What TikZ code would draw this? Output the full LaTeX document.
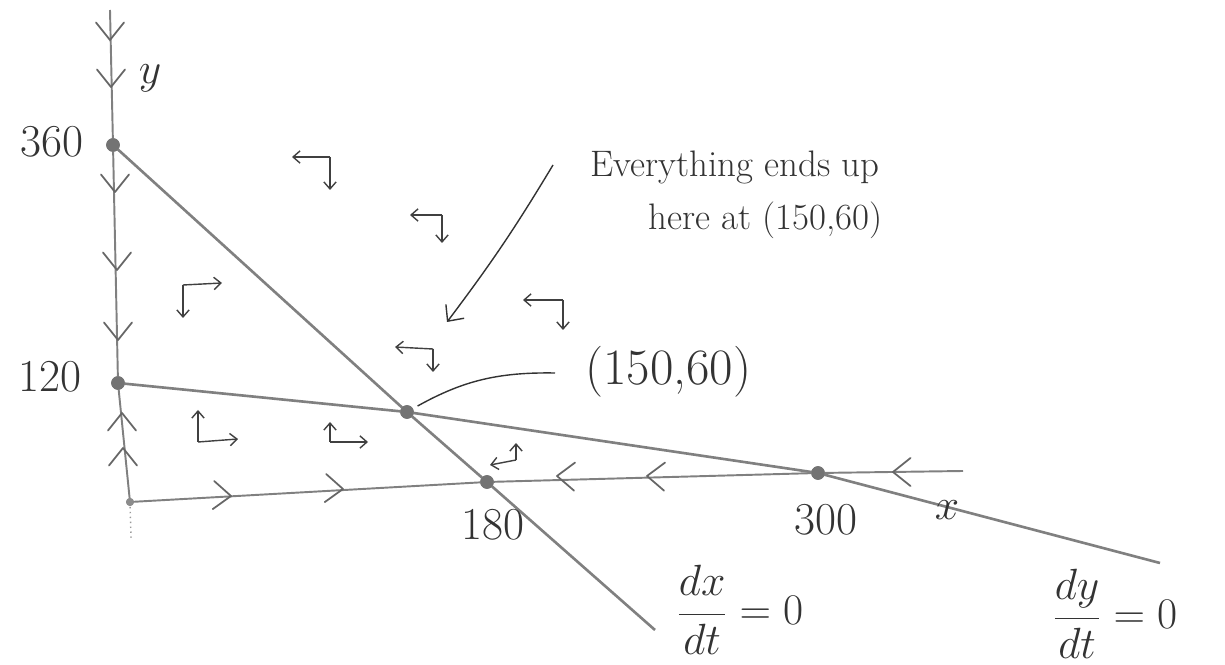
\documentclass[tikz,border=0pt]{standalone}
\usetikzlibrary{arrows.meta}
\begin{document}
\begin{tikzpicture}[x=0.02cm,y=-0.02cm,
  axisline/.style={draw=black!50, line width=1.1pt},
  nullcline/.style={draw=black!50, line width=1.5pt},
  dotnode/.style={circle, fill=black!55, draw=black!55, inner sep=0pt, minimum size=2.6mm},
  smalldot/.style={circle, fill=black!45, inner sep=0pt, minimum size=1.6mm},
  lbl/.style={text=black!80, inner sep=0pt, font=\fontsize{22}{26}\selectfont},
  numlbl/.style={text=black!80, inner sep=0pt, font=\fontsize{26}{30}\selectfont},
  fraclbl/.style={text=black!80, inner sep=0pt, font=\fontsize{27}{31}\selectfont},
  dirarrow/.style={draw=black!75, line width=0.8pt, -{Straight Barb[length=4pt,width=7pt]}},
  pointer/.style={draw=black!80, line width=0.8pt},
  chev/.pic={\draw[black!60, line width=1pt, line cap=round, line join=round] (-10pt,8pt) -- (0,0) -- (-10pt,-8pt);}
]
\path[use as bounding box] (0,0) rectangle (1225,665);

% key points
\coordinate (ytop) at (110,10);
\coordinate (ybot) at (131,538);
\coordinate (xend) at (963,471);
\coordinate (dxend) at (655,630);
\coordinate (dyend) at (1160,563);
\node[dotnode] (p360) at (113,145) {};
\node[dotnode] (p120) at (118,383) {};
\node[smalldot] (O) at (130,502) {};
\node[dotnode] (E) at (407,412) {};
\node[dotnode] (p180) at (487,482) {};
\node[dotnode] (p300) at (818,473) {};

% axes
\draw[axisline] (ytop) -- (p360.center) -- (p120.center) -- (O.center);
\draw[axisline] (O.center) -- (p180.center) -- (p300.center) -- (xend);
\draw[black!40, line width=0.8pt, dotted] (O.center) -- (ybot);

% nullclines
\draw[nullcline] (p360.center) -- (E.center) -- (p180.center) -- (dxend);
\draw[nullcline] (p120.center) -- (E.center) -- (p300.center) -- (dyend);

% redraw dots on top
\foreach \p in {p360,p120,E,p180,p300} {\fill[black!55] (\p) circle (1.3mm);}
\fill[black!45] (O) circle (0.8mm);

% chevrons on y axis
\pic[rotate=-90] at (110,40) {chev};
\pic[rotate=-90] at (111,87) {chev};
\pic[rotate=-90] at (115,192) {chev};
\pic[rotate=-90] at (117,270) {chev};
\pic[rotate=-90] at (118,340) {chev};
\pic[rotate=90] at (122,413) {chev};
\pic[rotate=90] at (123,448) {chev};
% chevrons on x axis
\pic[rotate=-3] at (231,496) {chev};
\pic[rotate=-3] at (343,489) {chev};
\pic[rotate=178] at (557,476) {chev};
\pic[rotate=178] at (647,476) {chev};
\pic[rotate=180] at (893,472) {chev};

% direction field arrows
\draw[dirarrow] (330,157) -- (292,157);
\draw[dirarrow] (330,157) -- (330,190);
\draw[dirarrow] (442,215) -- (410,215);
\draw[dirarrow] (442,215) -- (442,243);
\draw[dirarrow] (563,300) -- (523,300);
\draw[dirarrow] (563,300) -- (563,330);
\draw[dirarrow] (433,349) -- (395,347);
\draw[dirarrow] (433,349) -- (433,372);
\draw[dirarrow] (183,285) -- (183,318);
\draw[dirarrow] (183,285) -- (222,283);
\draw[dirarrow] (198,442) -- (198,410);
\draw[dirarrow] (198,442) -- (238,439);
\draw[dirarrow] (330,442) -- (330,422);
\draw[dirarrow] (330,442) -- (368,442);
\draw[dirarrow] (516,460) -- (490,465);
\draw[dirarrow] (516,460) -- (516,443);

% labels
\node[numlbl, anchor=base] (l360) at (52,157) {360};
\node[numlbl, anchor=base] (l120) at (50,392) {120};
\node[numlbl, anchor=base] (l180) at (493,540) {180};
\node[numlbl, anchor=base] (l300) at (826,535) {300};
\node[numlbl] (ly) at (150,78) {$y$};
\node[numlbl] (lx) at (947,510) {$x$};
\node[lbl, font=\fontsize{21}{25}\selectfont, anchor=base west] (t1) at (590,177) {Everything ends up};
\node[lbl, font=\fontsize{21}{25}\selectfont, anchor=base west] (t2) at (648,230) {here at (150,60)};
\node[numlbl, font=\fontsize{29}{33}\selectfont, anchor=base west] (lE) at (585,385) {(150,60)};
\node[fraclbl] (fx) at (740,610) {$\displaystyle\frac{dx}{dt}=0$};
\node[fraclbl] (fy) at (1115,614) {$\displaystyle\frac{dy}{dt}=0$};

% pointers
\coordinate (ptr1s) at (553,165);
\coordinate (ptr1e) at (447,322);
\draw[pointer, -{Straight Barb[length=7pt,width=13pt]}] (ptr1s) to[bend left=3] (ptr1e);
\coordinate (ptr2s) at (555,373);
\draw[pointer, shorten >=3pt] (ptr2s) to[bend right=15] (E);
\end{tikzpicture}
\end{document}
